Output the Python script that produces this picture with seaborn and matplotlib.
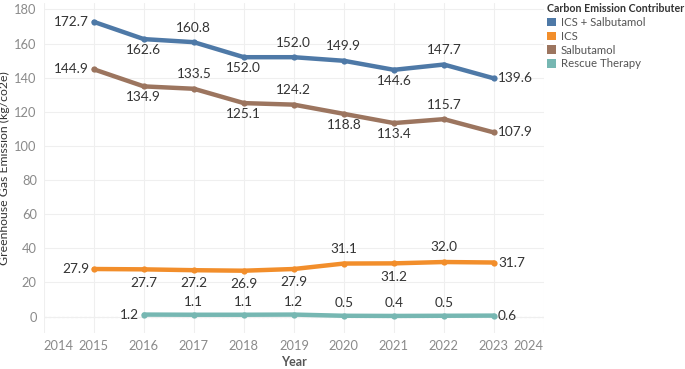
import numpy as np
import pandas as pd
import seaborn as sns
import matplotlib.pyplot as plt
from matplotlib.patches import Patch

sns.set_theme(style="white")
plt.rcParams['font.family'] = ['Lato', 'DejaVu Sans']

years = [2015, 2016, 2017, 2018, 2019, 2020, 2021, 2022, 2023]
ics_salb = [172.7, 162.6, 160.8, 152.0, 152.0, 149.9, 144.6, 147.7, 139.6]
ics = [27.9, 27.7, 27.2, 26.9, 27.9, 31.1, 31.2, 32.0, 31.7]
salb = [144.9, 134.9, 133.5, 125.1, 124.2, 118.8, 113.4, 115.7, 107.9]
rescue_years = [2016, 2017, 2018, 2019, 2020, 2021, 2022, 2023]
rescue = [1.2, 1.1, 1.1, 1.2, 0.5, 0.4, 0.5, 0.6]

series = ['ICS + Salbutamol', 'ICS', 'Salbutamol', 'Rescue Therapy']
colors = ['#4e79a7', '#f28e2b', '#9c755f', '#76b7b2']

# label placement per point: l=left, r=right, a=above, b=below
label_pos = {
    'ICS + Salbutamol': 'lbabaabar',
    'ICS': 'lbbbbabar',
    'Salbutamol': 'lbababbar',
    'Rescue Therapy': 'laaaaaar',
}

df = pd.concat([
    pd.DataFrame({'Year': years, 'Value': ics_salb, 'Contributer': series[0]}),
    pd.DataFrame({'Year': years, 'Value': ics, 'Contributer': series[1]}),
    pd.DataFrame({'Year': years, 'Value': salb, 'Contributer': series[2]}),
    pd.DataFrame({'Year': rescue_years, 'Value': rescue, 'Contributer': series[3]}),
])

fig = plt.figure(figsize=(6.85, 3.69), dpi=100)
ax = fig.add_axes([0.064, 0.098, 0.73, 0.895])

sns.lineplot(data=df, x='Year', y='Value', hue='Contributer', hue_order=series,
             palette=colors, linewidth=3.2, marker='o', markersize=4.5,
             markeredgewidth=0, legend=False, ax=ax)

# offsets in points (1pt = 1.39px at dpi 100)
offs = {'l': (-3.5, 0, 'right'), 'r': (3, 0, 'left'),
        'a': (0, 10.5, 'center'), 'b': (0, -8, 'center')}
for name in series:
    sub = df[df['Contributer'] == name]
    for (yr, v), p in zip(zip(sub['Year'], sub['Value']), label_pos[name]):
        dx, dy, ha = offs[p]
        if name == 'ICS' and p == 'b':
            dy = -9.5
        if name == 'Rescue Therapy' and p == 'a':
            dy = 9
        ax.annotate(f'{v:.1f}', (yr, v), xytext=(dx, dy), textcoords='offset points',
                    ha=ha, va='center', fontsize=9.8, color='#333333')

ax.set_xlim(2014, 2024)
ax.set_ylim(-9.5, 184)
ax.set_xticks(range(2014, 2025))
ax.set_yticks(range(0, 181, 20))
ax.tick_params(axis='both', length=0, labelsize=9.3, labelcolor='#8a8a8a', pad=5)
xl = ax.get_xticklabels()
xl[0].set_ha('left')
xl[-1].set_ha('right')
ax.grid(True, color='#efefef', linewidth=0.8)
ax.axhline(0, color='#cfcfcf', linewidth=0.8, linestyle=(0, (2, 2)), zorder=0)
for s in ax.spines.values():
    s.set_visible(False)
ax.set_xlabel('Year', fontsize=9, fontweight='bold', color='#555555', labelpad=3)
ax.set_ylabel('Greenhouse Gas Emission (kg/co2e)', fontsize=8.8, color='#333333')
ax.yaxis.set_label_coords(-0.067, 0.5)

handles = [Patch(facecolor=c, edgecolor='none', label=n) for c, n in zip(colors, series)]
leg = fig.legend(handles=handles, title='Carbon Emission Contributer',
                 loc='upper left', bbox_to_anchor=(0.797, 0.995), frameon=False,
                 fontsize=8.2, title_fontsize=7.7, handlelength=0.75, handleheight=0.75,
                 handletextpad=0.45, labelspacing=0.25, borderaxespad=0, borderpad=0.1)
leg.get_title().set_fontweight('bold')
leg.get_title().set_color('#333333')
leg._legend_box.align = 'left'
for t in leg.get_texts():
    t.set_color('#555555')

fig.savefig('out.png', dpi=100)
